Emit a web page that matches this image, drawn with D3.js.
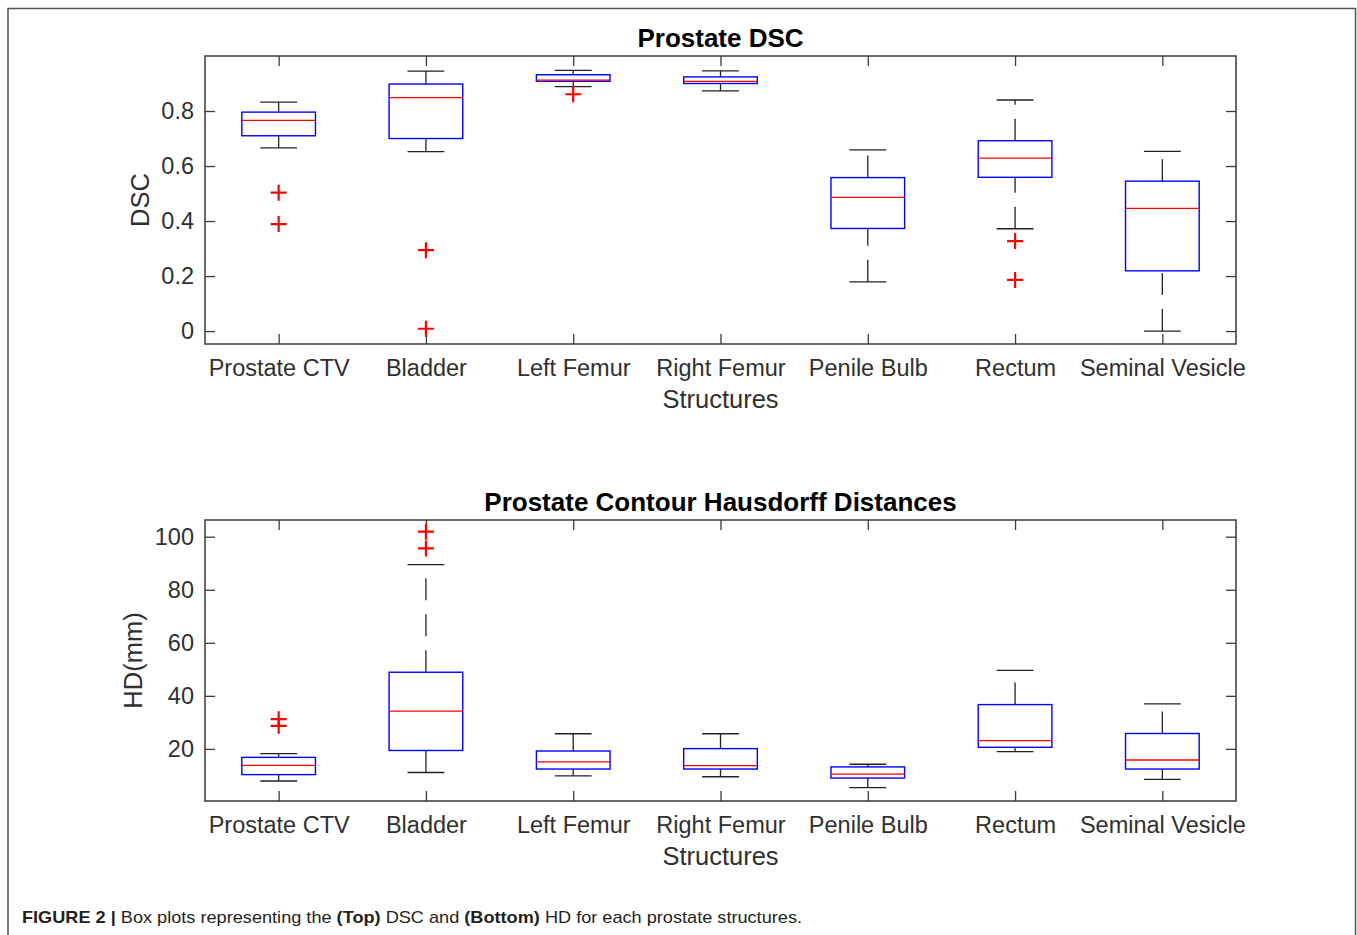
<!DOCTYPE html>
<html>
<head>
<meta charset="utf-8">
<script src="https://cdn.jsdelivr.net/npm/d3@7"></script>
<style>
  html, body { margin: 0; padding: 0; background: #fff; }
  svg { display: block; }
  text { font-family: "Liberation Sans", Arial, Helvetica, sans-serif; }
</style>
</head>
<body>
<svg id="fig" width="1357" height="935"></svg>
<script>
// ---------- data ----------
const categories = ["Prostate CTV", "Bladder", "Left Femur", "Right Femur", "Penile Bulb", "Rectum", "Seminal Vesicle"];

// Top: DSC
const dscLowerWhisker = [0.666, 0.652, 0.889, 0.873, 0.179, 0.372, 0.0];
const dscQ1           = [0.710, 0.700, 0.908, 0.900, 0.373, 0.559, 0.219];
const dscMedian       = [0.766, 0.849, 0.912, 0.908, 0.486, 0.629, 0.446];
const dscQ3           = [0.796, 0.898, 0.932, 0.924, 0.558, 0.692, 0.545];
const dscUpperWhisker = [0.832, 0.945, 0.948, 0.946, 0.659, 0.840, 0.653];
const dscOutliers     = [[0.503, 0.389], [0.294, 0.0085], [0.861], [], [], [0.327, 0.186], []];
const dscTicks = [0, 0.2, 0.4, 0.6, 0.8];
const dscDomain = [-0.047, 1.0];

// Bottom: Hausdorff distance (mm)
const hdLowerWhisker = [7.9, 11.1, 9.8, 9.5, 5.4, 19.0, 8.5];
const hdQ1           = [10.3, 19.4, 12.4, 12.4, 9.0, 20.6, 12.4];
const hdMedian       = [13.8, 34.2, 15.1, 13.7, 10.5, 23.1, 15.8];
const hdQ3           = [16.8, 48.9, 19.2, 20.1, 13.2, 36.7, 25.8];
const hdUpperWhisker = [18.2, 89.5, 25.7, 25.7, 14.2, 49.6, 37.0];
const hdOutliers     = [[31.2, 28.7], [101.9, 95.6], [], [], [], [], []];
const hdTicks = [20, 40, 60, 80, 100];
const hdDomain = [0.35, 106.3];

// ---------- drawing ----------
const svg = d3.select("#fig");
const axisColor = "#3a3a3a";
const textColor = "#303030";

// figure frame
svg.append("path")
  .attr("d", "M8,940 L8,8.5 L1355.5,8.5 L1355.5,940")
  .attr("fill", "none").attr("stroke", "#555").attr("stroke-width", 1.5);

function boxPlot(cfg) {
  const { left, right, top, bottom, title, ylabel, ylabelX, yDomain, ticks,
          lw, q1, med, q3, uw, outliers } = cfg;

  const x = d3.scaleLinear().domain([0.5, categories.length + 0.5]).range([left, right]);
  const y = d3.scaleLinear().domain(yDomain).range([bottom, top]);
  const g = svg.append("g");

  // axes (ticks pointing inward, MATLAB style)
  const tickLen = 10;
  const catIdx = categories.map((d, i) => i + 1);

  const xb = d3.axisBottom(x).tickValues(catIdx).tickFormat(i => categories[i - 1])
    .tickSizeInner(-tickLen).tickSizeOuter(0).tickPadding(15);
  const xt = d3.axisTop(x).tickValues(catIdx).tickFormat("")
    .tickSizeInner(-tickLen).tickSizeOuter(0);
  const yl = d3.axisLeft(y).tickValues(ticks).tickFormat(d3.format("~g"))
    .tickSizeInner(-tickLen).tickSizeOuter(0).tickPadding(11);
  const yr = d3.axisRight(y).tickValues(ticks).tickFormat("")
    .tickSizeInner(-tickLen).tickSizeOuter(0);

  function style(sel) {
    sel.select(".domain").remove();
    sel.selectAll(".tick line").attr("stroke", axisColor).attr("stroke-width", 1.3);
    sel.selectAll(".tick text").attr("fill", textColor)
      .style("font-family", '"Liberation Sans", Arial, sans-serif')
      .style("font-size", "23.5px");
  }
  g.append("g").attr("transform", `translate(0,${bottom})`).call(xb).call(style);
  g.append("g").attr("transform", `translate(0,${top})`).call(xt).call(style);
  g.append("g").attr("transform", `translate(${left},0)`).call(yl).call(style);
  g.append("g").attr("transform", `translate(${right},0)`).call(yr).call(style);

  g.append("rect")
    .attr("x", left).attr("y", top).attr("width", right - left).attr("height", bottom - top)
    .attr("fill", "none").attr("stroke", axisColor).attr("stroke-width", 1.5);

  // title
  g.append("text").attr("x", (left + right) / 2).attr("y", top - 9)
    .attr("text-anchor", "middle").attr("fill", "#000")
    .style("font-size", "26px").style("font-weight", "bold").text(title);

  // x label
  g.append("text").attr("x", (left + right) / 2).attr("y", bottom + 64)
    .attr("text-anchor", "middle").attr("fill", textColor)
    .style("font-size", "25.5px").text("Structures");

  // y label
  g.append("text")
    .attr("transform", `translate(${ylabelX},${(top + bottom) / 2}) rotate(-90)`)
    .attr("text-anchor", "middle").attr("fill", textColor)
    .style("font-size", "25.5px").text(ylabel);

  const boxHalf = (x(1.25) - x(1));
  const capHalf = (x(1.125) - x(1));

  categories.forEach((c, i) => {
    const cx = x(i + 1);
    const bg = g.append("g");
    // whiskers (dashed, drawn from bottom to top)
    bg.append("path").attr("d", `M${cx},${y(lw[i])} L${cx},${y(q1[i])}`)
      .attr("stroke", "#222").attr("stroke-width", 1.3).attr("stroke-dasharray", "22,14");
    bg.append("path").attr("d", `M${cx},${y(q3[i])} L${cx},${y(uw[i])}`)
      .attr("stroke", "#222").attr("stroke-width", 1.3).attr("stroke-dasharray", "22,14");
    // caps
    [lw[i], uw[i]].forEach(v => {
      bg.append("line").attr("x1", cx - capHalf).attr("x2", cx + capHalf)
        .attr("y1", y(v)).attr("y2", y(v))
        .attr("stroke", "#222").attr("stroke-width", 1.3);
    });
    // box
    bg.append("rect").attr("x", cx - boxHalf).attr("width", 2 * boxHalf)
      .attr("y", y(q3[i])).attr("height", y(q1[i]) - y(q3[i]))
      .attr("fill", "none").attr("stroke", "#0000ff").attr("stroke-width", 1.4);
    // median
    bg.append("line").attr("x1", cx - boxHalf).attr("x2", cx + boxHalf)
      .attr("y1", y(med[i])).attr("y2", y(med[i]))
      .attr("stroke", "#ff0000").attr("stroke-width", 1.3);
    // outliers
    outliers[i].forEach(v => {
      const py = y(v), s = 8;
      bg.append("path").attr("d", `M${cx - s},${py} L${cx + s},${py} M${cx},${py - s} L${cx},${py + s}`)
        .attr("stroke", "#ff0000").attr("stroke-width", 2.2).attr("fill", "none");
    });
  });
}

boxPlot({
  left: 205, right: 1236, top: 56, bottom: 344,
  title: "Prostate DSC", ylabel: "DSC", ylabelX: 149,
  yDomain: dscDomain, ticks: dscTicks,
  lw: dscLowerWhisker, q1: dscQ1, med: dscMedian, q3: dscQ3, uw: dscUpperWhisker, outliers: dscOutliers
});

boxPlot({
  left: 205, right: 1236, top: 520, bottom: 801,
  title: "Prostate Contour Hausdorff Distances", ylabel: "HD(mm)", ylabelX: 142,
  yDomain: hdDomain, ticks: hdTicks,
  lw: hdLowerWhisker, q1: hdQ1, med: hdMedian, q3: hdQ3, uw: hdUpperWhisker, outliers: hdOutliers
});

// caption
const cap = svg.append("text").attr("x", 22).attr("y", 923)
  .attr("fill", "#231f20")
  .attr("textLength", 780).attr("lengthAdjust", "spacingAndGlyphs")
  .style("font-family", '"Liberation Sans Narrow", "Liberation Sans", Arial, sans-serif')
  .style("font-size", "17px");
cap.append("tspan").style("font-weight", "bold").text("FIGURE 2 | ");
cap.append("tspan").text("Box plots representing the ");
cap.append("tspan").style("font-weight", "bold").text("(Top)");
cap.append("tspan").text(" DSC and ");
cap.append("tspan").style("font-weight", "bold").text("(Bottom)");
cap.append("tspan").text(" HD for each prostate structures.");
</script>
</body>
</html>
